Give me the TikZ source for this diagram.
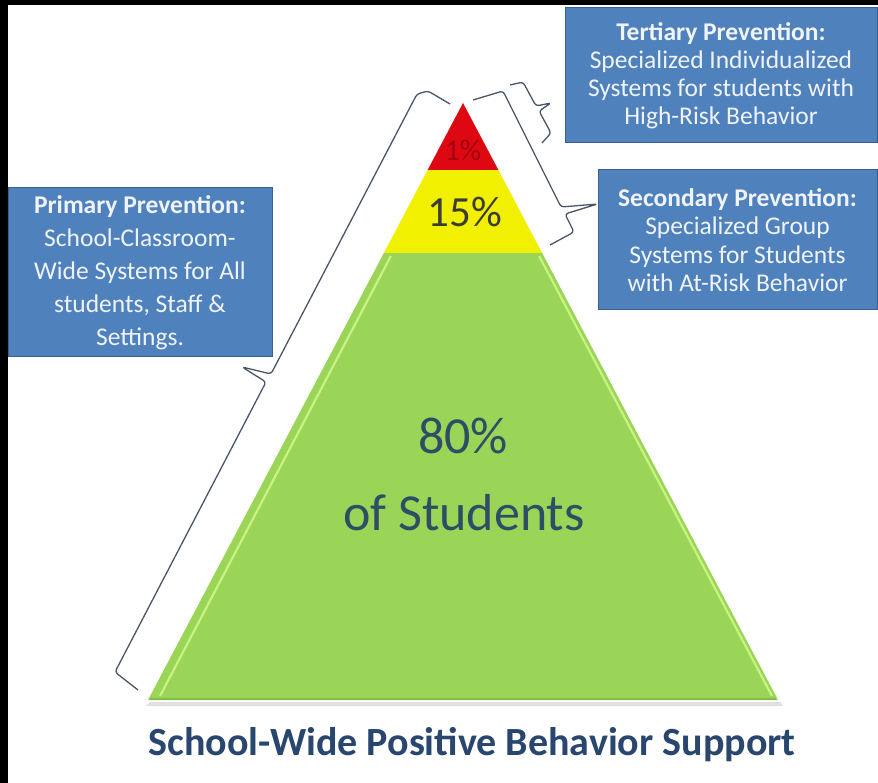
\documentclass[tikz,border=0pt]{standalone}
\usepackage{fontspec}
\setmainfont{Carlito}
\usetikzlibrary{calc}
\definecolor{boxblue}{RGB}{79,129,189}
\definecolor{boxedge}{RGB}{56,96,146}
\definecolor{boxtext}{RGB}{240,244,250}
\definecolor{grfill}{RGB}{155,213,88}
\definecolor{grlight}{RGB}{200,242,130}
\definecolor{grdark}{RGB}{130,190,70}
\definecolor{yefill}{RGB}{240,240,0}
\definecolor{refill}{RGB}{222,8,18}
\definecolor{bracecol}{RGB}{75,85,105}
\definecolor{studtext}{RGB}{45,78,100}
\definecolor{titletext}{RGB}{40,70,110}
\tikzset{
  infobox/.style={draw=boxedge, line width=1pt, fill=boxblue, text=boxtext,
    align=center, inner sep=0pt},
  brc/.style={draw=bracecol, line width=1.3pt, rounded corners=3pt, line join=round},
  pcttext/.style={inner sep=0pt}
}
\begin{document}
\begin{tikzpicture}[x=1pt,y=-1pt]
\useasboundingbox (0,0) rectangle (878,783);
\fill[white] (0,0) rectangle (878,783);
\fill[black] (0,0) rectangle (878,5);
\fill[black] (0,0) rectangle (8,783);

% pyramid corner points
\coordinate (apex) at (463,103);
\coordinate (rl) at (427.6,170);
\coordinate (rr) at (498.4,170);
\coordinate (yl) at (383.9,253);
\coordinate (yr) at (542.1,253);
\coordinate (gl) at (148,700);
\coordinate (gr) at (778,700);

% shadow
\fill[black!12] (150,702) -- (780,702) -- (783,706) -- (146,706) -- cycle;

% green tier
\fill[grfill] (yl) -- (yr) -- (gr) -- (gl) -- cycle;
\draw[grlight, line width=2.2pt] ($(yl)+(7,3)$) -- ($(gl)+(12,-4)$);
\draw[grlight, line width=2.2pt] ($(yr)+(-3,3)$) -- ($(gr)+(-6,-4)$);
\draw[grdark, line width=2pt] ($(gl)+(2,-1)$) -- ($(gr)+(-2,-1)$);
% yellow tier
\fill[yefill] (rl) -- (rr) -- (yr) -- (yl) -- cycle;
% red tier
\fill[refill] (apex) -- (rr) -- (rl) -- cycle;

\node[pcttext, text={rgb,255:red,165;green,0;blue,15}, font=\fontsize{30}{30}\selectfont] (p1) at (463,150) {1\%};
\node[pcttext, text={rgb,255:red,60;green,60;blue,55}, font=\fontsize{43}{43}\selectfont] (p15) at (465,212) {15\%};
\node[pcttext, text=studtext, font=\fontsize{52}{52}\selectfont] (p80) at (463,436) {80\%};
\node[pcttext, text=studtext, font=\fontsize{52}{52}\selectfont] (stud) at (464,513) {of Students};

\node[pcttext, text=titletext, font=\bfseries\fontsize{40}{40}\selectfont] (title) at (472,745) {School-Wide Positive Behavior Support};

% boxes
\node[infobox, minimum width=312pt, minimum height=135pt, font=\fontsize{25.5}{28}\selectfont] (tert) at (721,75.5)
  {\textbf{Tertiary Prevention:}\\Specialized Individualized\\Systems for students with\\High-Risk Behavior};
\node[infobox, minimum width=279pt, minimum height=140pt, font=\fontsize{25.5}{28.5}\selectfont] (sec) at (737.5,240)
  {\textbf{Secondary Prevention:}\\Specialized Group\\Systems for Students\\with At-Risk Behavior};
\node[infobox, minimum width=264pt, minimum height=169pt, font=\fontsize{25.5}{33}\selectfont] (prim) at (140,272.5)
  {\textbf{Primary Prevention:}\\School-Classroom-\\Wide Systems for All\\students, Staff \&\\Settings.};

% braces
\coordinate (bigtip) at (242,367);
\draw[brc] (450,104) -- (428,91) -- (417,94) -- (271,374) -- (bigtip) -- (266,382) -- (115,672) -- (138,690);
\coordinate (tertip) at (551,103);
\draw[brc] (510,85) -- (523,82) -- (536,106) -- (tertip) -- (539,111) -- (551,133) -- (542,143);
\coordinate (sectip) at (sec.west |- 0,204);
\draw[brc] (473,100) -- (503,91) -- (561,207) -- (sectip) -- (565,214) -- (574,232) -- (550,245);
\end{tikzpicture}
\end{document}
